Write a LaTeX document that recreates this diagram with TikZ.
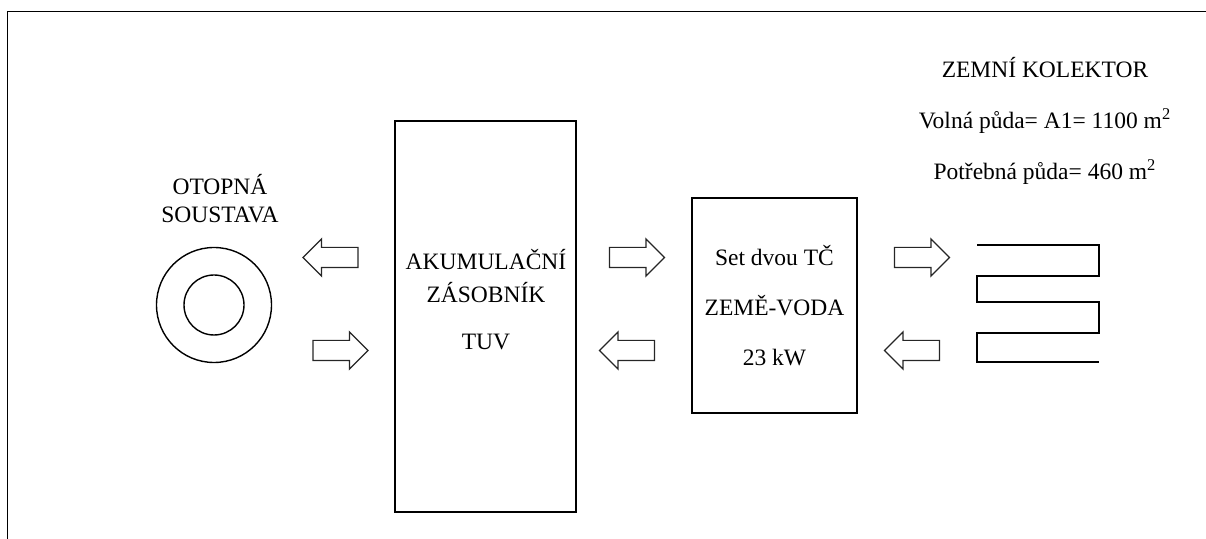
\documentclass[tikz,border=0pt]{standalone}
\usepackage{fontspec}
\setmainfont{Liberation Serif}
\usetikzlibrary{shapes.arrows, shapes.geometric, positioning}
\tikzset{
    blok/.style={draw, line width=0.8pt, inner sep=0pt},
    sipka/.style={single arrow, draw=black!85, line width=0.6pt, inner xsep=0pt, inner ysep=4.75pt,
        single arrow head extend=4.25pt, single arrow tip angle=90, single arrow head indent=0pt,
        minimum height=27.5pt},
    sipkaL/.style={sipka, shape border rotate=180},
    kruh/.style={circle, draw, line width=0.7pt, inner sep=0pt},
}

\begin{document}
\begin{tikzpicture}[x=0.5pt, y=-0.5pt, font=\fontsize{11.75}{14}\selectfont]
\useasboundingbox (0,0) rectangle (1206,539);
% ramecek
\draw[line width=0.8pt] (7.5,539) -- (7.5,11.5) -- (1206,11.5);

% otopna soustava
\node[align=center] (otop) at (220,199) {OTOPNÁ\\SOUSTAVA};
\node[kruh, minimum size=57.5pt] (kruhV) at (214,305) {};
\node[kruh, minimum size=30pt] (kruhM) at (214,305) {};

% akumulacni zasobnik
\node[blok, minimum width=90.5pt, minimum height=195.5pt] (akum) at (485.5,316.5) {};
\node[align=center, font=\fontsize{11.75}{16.5}\selectfont] (akumT) at (486,300) {AKUMULAČNÍ\\ZÁSOBNÍK\\[7pt]TUV};

% tepelne cerpadlo
\node[blok, minimum width=82.5pt, minimum height=107.5pt, align=center,
    font=\fontsize{11.75}{25}\selectfont] (tc) at (774.5,305.5) {Set dvou TČ\\ZEMĚ-VODA\\23 kW};

% zemni kolektor
\node[align=center, font=\fontsize{11.75}{25.5}\selectfont] (kol) at (1045,121)
    {ZEMNÍ KOLEKTOR\\Volná půda= A1= 1100 m\textsuperscript{2}\\Potřebná půda= 460 m\textsuperscript{2}};
\draw[line width=0.8pt] (977,245) -- (1099,245) -- (1099,276) -- (977,276) -- (977,302)
    -- (1099,302) -- (1099,333) -- (977,333) -- (977,362) -- (1099,362);

% sipky
\node[sipkaL] (s1) at (335.5,257.5) {};
\node[sipka]  (s2) at (335.5,350.5) {};
\node[sipka]  (s3) at (632,257.5) {};
\node[sipkaL] (s4) at (632,350.5) {};
\node[sipka]  (s5) at (917,257.5) {};
\node[sipkaL] (s6) at (917,350.5) {};
\end{tikzpicture}
\end{document}
